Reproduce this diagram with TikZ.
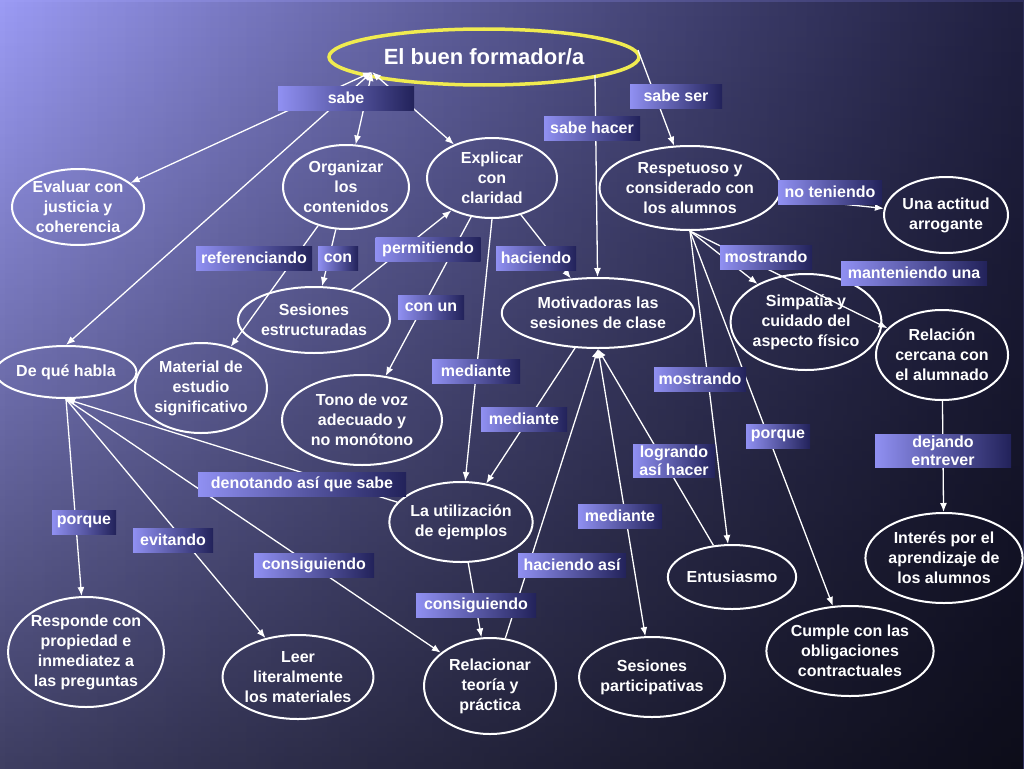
\documentclass[tikz,border=0pt]{standalone}
\usepackage{fontspec}
\setmainfont{Liberation Sans}
\usetikzlibrary{arrows.meta,fadings,shapes.geometric}
\definecolor{bgtl}{HTML}{9C9CF5}
\definecolor{bgtr}{HTML}{2E2E5C}
\definecolor{lbl}{HTML}{9090F2}
\definecolor{lbr}{HTML}{22225A}
\begin{document}
\begin{tikzpicture}[x=1pt,y=-1pt,
 ell/.style={ellipse,draw=white,line width=2pt,text=white,font=\bfseries\fontsize{16}{20}\selectfont,align=center,inner sep=0pt},
 lab/.style={left color=lbl,right color=lbr,text=white,font=\bfseries\fontsize{16}{18}\selectfont,align=center,inner sep=2pt,minimum height=24pt},
 ed/.style={white,line width=1.3pt},
 ar/.style={ed,-{Latex[length=9pt,width=7pt]}},
 ba/.style={ed,{Latex[length=9pt,width=7pt]}-{Latex[length=9pt,width=7pt]}}]
\useasboundingbox (0,0) rectangle (1024,768);
\shade[left color=bgtl,right color=bgtr] (0,0) rectangle (1024,768);
\fill[black,path fading=north,opacity=0.6] (0,0) rectangle (1024,768);
\fill[black,path fading=west,opacity=0.3] (0,0) rectangle (1024,768);
% nodes
\newcommand{\E}[6]{\node[ell,minimum width=#4pt,minimum height=#5pt] (#1) at (#2,#3) {#6};}
\node[ellipse,draw={rgb,255:red,240;green,235;blue,80},line width=3.5pt,minimum width=310pt,minimum height=56pt,text=white,font=\bfseries\fontsize{22}{26}\selectfont] (title) at (484,57) {El buen formador/a};
\E{eval}{78}{207}{132}{76}{Evaluar con\\justicia y\\coherencia}
\E{org}{346}{187}{126}{84}{Organizar\\los\\contenidos}
\E{exp}{492}{178}{130}{80}{Explicar\\con\\claridad}
\E{resp}{690}{188}{150}{84}{Respetuoso y\\considerado con\\los alumnos}
\E{arr}{946}{215}{124}{76}{Una actitud\\arrogante}
\E{ses}{314}{320}{152}{66}{Sesiones\\estructuradas}
\E{mot}{598}{313}{170}{70}{Motivadoras las\\sesiones de clase}
\E{sim}{806}{322}{130}{96}{Simpatía y\\cuidado del\\aspecto físico}
\E{rel}{942}{355}{132}{90}{Relación\\cercana con\\el alumnado}
\E{dq}{66}{372}{132}{52}{De qué habla}
\E{mat}{201}{388}{130}{90}{Material de\\estudio\\significativo}
\E{tono}{362}{420}{160}{90}{Tono de voz\\adecuado y\\no monótono}
\E{uti}{461}{522}{132}{80}{La utilización\\de ejemplos}
\E{int}{944}{558}{136}{90}{Interés por el\\aprendizaje de\\los alumnos}
\E{ent}{732}{577}{128}{64}{Entusiasmo}
\E{cum}{850}{651}{154}{90}{Cumple con las\\obligaciones\\contractuales}
\E{resp2}{86}{652}{148}{110}{Responde con\\propiedad e\\inmediatez a\\las preguntas}
\E{leer}{298}{677}{150}{84}{Leer\\literalmente\\los materiales}
\E{relac}{490}{686}{132}{96}{Relacionar\\teoría y\\práctica}
\E{part}{652}{677}{126}{80}{Sesiones\\participativas}
% edges
\coordinate (ts) at (372,72);
\coordinate (tr) at (638,50);
\coordinate (tb) at (595,75);
\draw[ba] (ts) -- (eval);
\draw[ba] (ts) -- (dq.north);
\draw[ba] (ts) -- (org);
\draw[ba] (ts) -- (exp);
\draw[ar] (tr) -- (resp);
\draw[ar] (tb) -- (mot);
\draw[ar] (org) -- (mat);
\draw[ar] (org) -- (ses);
\draw[ar] (ses) -- (exp);
\draw[ar] (exp) -- (mot);
\draw[ar] (exp.south) -- (uti);
\draw[ar] (exp) -- (tono);
\draw[ar] (mot) -- (uti);
\draw[ar] (resp) -- (arr);
\draw[ar] (resp.south) -- (sim);
\draw[ar] (resp.south) -- (rel);
\draw[ar] (resp.south) -- (ent);
\draw[ar] (resp.south) -- (cum);
\draw[ar] (rel) -- (int);
\draw[ar] (ent) -- (mot.south);
\draw[ba] (mot.south) -- (part);
\draw[ar] (relac) -- (mot.south);
\draw[ar] (uti) -- (relac);
\draw[ar] (dq.south) -- (resp2);
\draw[ar] (dq.south) -- (leer);
\draw[ar] (dq.south) -- (relac);
\draw[ar] (uti) -- (dq.south);
% labels
\newcommand{\Lb}[5]{\node[lab,minimum width=#4pt] (#1) at (#2,#3) {#5};}
\Lb{l1}{346}{98}{136}{sabe}
\Lb{l2}{676}{96}{92}{sabe ser}
\Lb{l3}{592}{128}{96}{sabe hacer}
\Lb{l4}{830}{192}{104}{no teniendo}
\Lb{l5}{254}{258}{116}{referenciando}
\Lb{l6}{338}{258}{40}{con}
\Lb{l7}{428}{249}{105}{permitiendo}
\Lb{l8}{536}{258}{80}{haciendo}
\Lb{l9}{766}{257}{92}{mostrando}
\Lb{l10}{914}{273}{146}{manteniendo una}
\Lb{l11}{431}{307}{66}{con un}
\Lb{l12}{476}{371}{88}{mediante}
\Lb{l13}{700}{379}{92}{mostrando}
\Lb{l14}{524}{419}{86}{mediante}
\Lb{l15}{778}{436}{64}{porque}
\Lb{l16}{674}{461}{82}{logrando\\así hacer}
\Lb{l17}{943}{451}{136}{dejando\\entrever}
\Lb{l18}{302}{484}{208}{denotando así que sabe}
\Lb{l19}{84}{522}{64}{porque}
\Lb{l20}{173}{540}{80}{evitando}
\Lb{l21}{620}{516}{84}{mediante}
\Lb{l22}{314}{565}{120}{consiguiendo}
\Lb{l23}{572}{565}{108}{haciendo así}
\Lb{l24}{476}{605}{120}{consiguiendo}
\end{tikzpicture}
\end{document}
